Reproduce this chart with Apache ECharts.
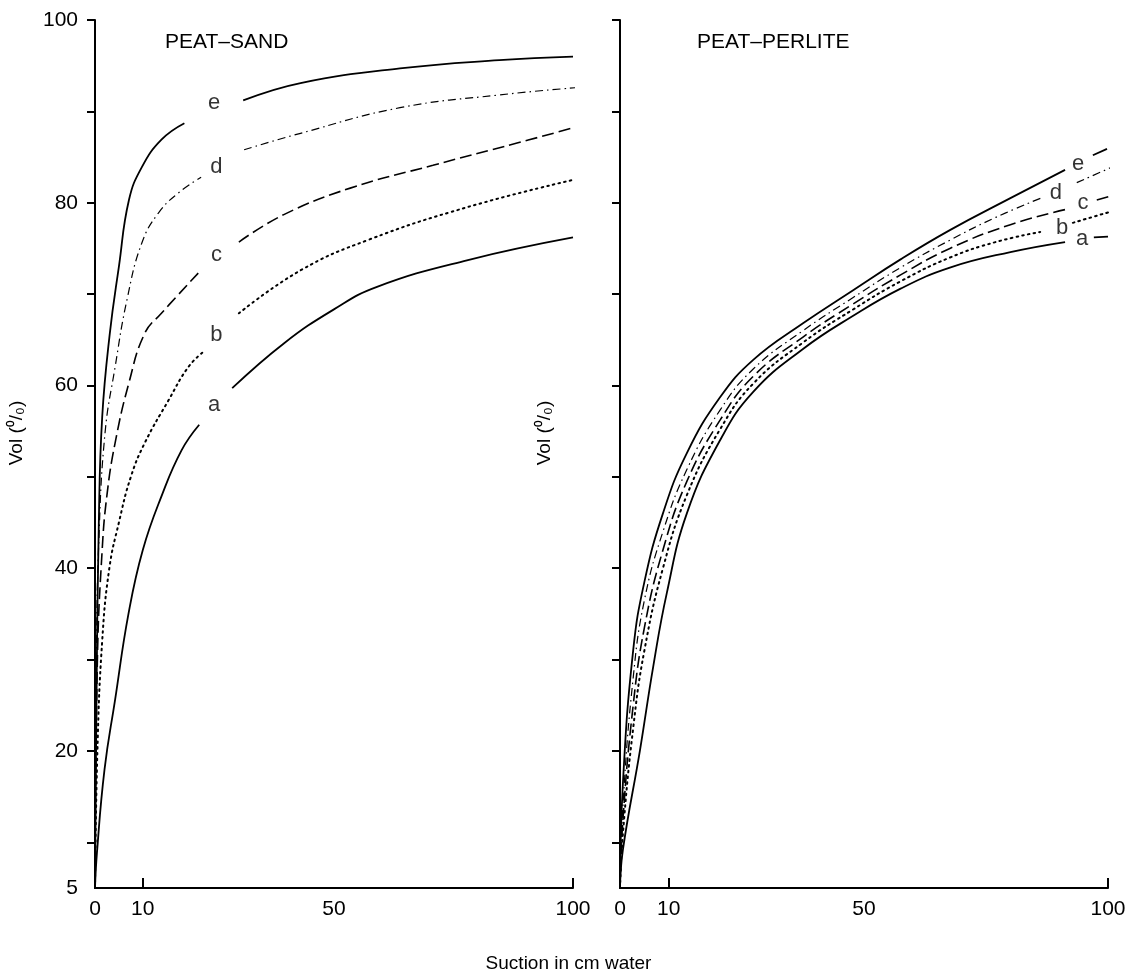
<!DOCTYPE html>
<html><head><meta charset="utf-8">
<script src="https://cdn.jsdelivr.net/npm/echarts@6/dist/echarts.min.js"></script>
<style>html,body{margin:0;padding:0;background:#fff}#c{width:1137px;height:978px}</style>
</head><body><div id="c"></div>
<script>
// ---- data (null = gap where the curve letter sits) ----
const xTickLabels = [0, 10, 50, 100];
const yTickLabels = [5, 20, 40, 60, 80, 100];
const yTicks = [10, 20, 30, 40, 50, 60, 70, 80, 90, 100];
const curveNames = ['a', 'b', 'c', 'd', 'e'];

// PEAT-SAND
const sandA = [[0,5],[0.4,8.8],[2,18],[4.2,25.6],[7,35],[10,42],[14,48],[18.1,52.9],[21.8,55.7],null,[28.7,59.7],[39.5,64.6],[49.9,68.3],[59,70.8],[77.8,73.7],[100,76.2]];
const sandB = [[0,5],[0.5,20],[1.5,32],[3,40],[5,45],[7.5,50],[10.4,53.7],[15.4,58.4],[19.5,62],[22.7,63.7],null,[30.1,67.9],[43,72.6],[57,75.9],[77.8,79.5],[100,82.5]];
const sandC = [[0,5],[0.5,30],[1.5,42],[2.5,48],[4.2,53.7],[7.1,60.3],[10.4,65.7],[13.9,67.9],[21.6,72.3],null,[30.1,75.7],[39.5,78.7],[53.4,81.6],[70.7,84.1],[88.1,86.5],[100,88.2]];
const sandD = [[0,5],[0.3,30],[0.8,43],[2.1,54.8],[4.2,62],[6.7,69.4],[9.8,75.6],[13.3,78.9],[17.5,81.1],[22.2,82.8],null,[31.2,85.8],[43,87.6],[63.8,90.4],[84.6,91.8],[100.8,92.6]];
const sandE = [[0,5],[0.3,25],[0.8,45],[1.5,56.5],[3.1,65.7],[5,73],[7.1,80.3],[9.8,83.9],[13.9,86.9],[18.7,88.7],null,[31,91.2],[43,93.1],[63.8,94.7],[84.6,95.6],[100,96]];
const sandLabelPos = [[24.9,57.9],[25.4,65.5],[25.4,74.3],[25.4,83.9],[24.9,90.9]];

// PEAT-PERLITE
const perlA = [[0,5],[0.6,9.2],[4.1,20.1],[6.8,29.2],[9.6,37.3],[13.7,46],[20.5,54],[27.3,59.3],[37.5,64.0],[47.7,67.6],[57.5,70.6],[67.6,72.9],[80,74.6],[91.2,75.7],null,[97.1,76.2],[100,76.3]];
const perlB = [[0,5],[0.6,11],[2.7,22.5],[5,31],[8.8,40],[13.7,48],[20.5,55.2],[27.3,60.2],[37.5,64.7],[47.7,68.3],[57.5,71.4],[67.6,74.0],[77,75.7],[86.1,76.8],null,[92.8,77.8],[101,79.1]];
const perlC = [[0,5],[0.6,12.5],[2.7,25],[5,33.5],[8.8,42],[13.7,49.5],[20.5,56.2],[27.3,61.0],[37.5,65.3],[47.7,68.9],[57.5,72.1],[67.6,75.0],[80,77.6],[91.6,79.3],null,[97.7,80.3],[103.5,81.2]];
const perlD = [[0,5],[0.6,14],[2.7,28],[5,36.5],[8.8,44],[13.7,50.8],[20.5,57.3],[27.3,61.8],[37.5,66.0],[47.7,69.6],[57.5,72.9],[67.6,75.9],[77,78.4],[86.7,80.6],null,[93.6,82.2],[102.5,84.3]];
const perlE = [[0,5],[0.6,16.5],[2.7,31],[5,38.5],[8.8,46],[13.7,52.6],[20.5,58.7],[27.3,62.8],[37.5,66.8],[47.7,70.4],[57.5,73.8],[67.6,77.0],[80,80.5],[91.2,83.6],null,[96.9,85.2],[99.8,85.9]];
const perlLabelPos = [[94.7,76.0],[90.6,77.2],[94.9,80.0],[89.3,81.1],[93.9,84.3]];

const panelTitles = ['PEAT\u2013SAND', 'PEAT\u2013PERLITE'];
const yName = 'Vol (\u2070/\u2080)';
const xName = 'Suction in cm water';

// ---- styles ----
const INK = '#000';
const FONT = 'Liberation Sans, Arial, sans-serif';
const styles = {
  a: {type: 'solid', width: 1.8},
  b: {type: [1.6, 4.2], width: 2, cap: 'round'},
  c: {type: [12, 5], width: 1.6},
  d: {type: [8, 4, 1.5, 4], width: 1.2},
  e: {type: 'solid', width: 1.8}
};

function splitGaps(arr) {
  const segs = [[]];
  arr.forEach(p => { if (p === null) segs.push([]); else segs[segs.length - 1].push(p); });
  return segs.filter(s => s.length);
}

const series = [];
function addPanel(curves, labelPos, idx) {
  curves.forEach((c, i) => {
    const name = curveNames[i];
    splitGaps(c).forEach(seg => {
      series.push({
        type: 'line', name: name, xAxisIndex: idx, yAxisIndex: idx,
        data: seg, showSymbol: false, smooth: 0.45, clip: false, silent: true,
        lineStyle: {color: INK, width: styles[name].width, type: styles[name].type, cap: styles[name].cap || 'butt'}
      });
    });
  });
  series.push({
    type: 'scatter', xAxisIndex: idx, yAxisIndex: idx, symbolSize: 1, silent: true,
    itemStyle: {color: 'rgba(0,0,0,0)'},
    data: labelPos.map((p, i) => [p[0], p[1], curveNames[i]]),
    label: {show: true, position: 'inside', formatter: p => p.data[2], color: INK, fontSize: 22, fontFamily: FONT}
  });
}
addPanel([sandA, sandB, sandC, sandD, sandE], sandLabelPos, 0);
addPanel([perlA, perlB, perlC, perlD, perlE], perlLabelPos, 1);

function xAxis(idx) {
  return {
    gridIndex: idx, type: 'value', min: 0, max: 100,
    axisLine: {show: true, onZero: false, lineStyle: {color: INK, width: 2}},
    axisTick: {show: true, inside: true, length: 10, customValues: [10, 100], lineStyle: {color: INK, width: 2}},
    axisLabel: {customValues: xTickLabels, color: INK, fontSize: 21, fontFamily: FONT, margin: 11},
    splitLine: {show: false}
  };
}
function yAxis(idx, showLabels) {
  return {
    gridIndex: idx, type: 'value', min: 5, max: 100,
    axisLine: {show: true, onZero: false, lineStyle: {color: INK, width: 2}},
    axisTick: {show: true, inside: false, length: 8, customValues: yTicks, lineStyle: {color: INK, width: 2}},
    axisLabel: {show: showLabels, customValues: yTickLabels, color: INK, fontSize: 21, fontFamily: FONT, margin: 17},
    splitLine: {show: false}
  };
}

const nameStyle = {text: yName, fill: INK, font: '19px ' + FONT, align: 'center', verticalAlign: 'middle'};

const chart = echarts.init(document.getElementById('c'), null, {renderer: 'canvas'});
chart.setOption({
  backgroundColor: '#fff',
  animation: false,
  title: [
    {text: panelTitles[0], left: 160, top: 27, textStyle: {color: INK, fontSize: 21, fontWeight: 'normal', fontFamily: FONT}},
    {text: panelTitles[1], left: 692, top: 27, textStyle: {color: INK, fontSize: 21, fontWeight: 'normal', fontFamily: FONT}},
    {text: xName, left: 'center', top: 949, textStyle: {color: INK, fontSize: 19, fontWeight: 'normal', fontFamily: FONT}}
  ],
  graphic: [
    {type: 'text', x: 17, y: 433, rotation: Math.PI / 2, style: nameStyle, silent: true},
    {type: 'text', x: 545, y: 433, rotation: Math.PI / 2, style: nameStyle, silent: true}
  ],
  grid: [
    {left: 95, right: 564, top: 20, bottom: 90},
    {left: 620, right: 29, top: 20, bottom: 90}
  ],
  xAxis: [xAxis(0), xAxis(1)],
  yAxis: [yAxis(0, true), yAxis(1, false)],
  series: series
});
</script>
</body></html>
